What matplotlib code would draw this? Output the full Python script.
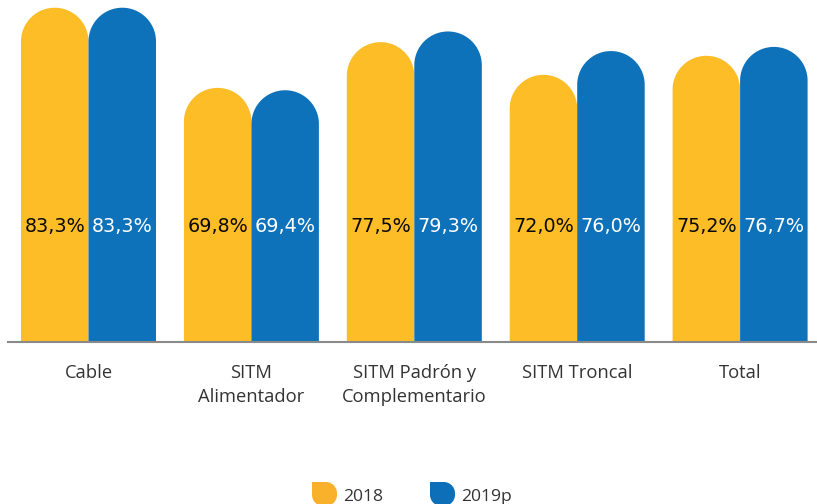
import numpy as np
import matplotlib
matplotlib.use("Agg")
import matplotlib.pyplot as plt
from matplotlib.patches import Polygon

categories = ["Cable", "SITM\nAlimentador", "SITM Padrón y\nComplementario", "SITM Troncal", "Total"]
series_names = ["2018", "2019p"]
values_2018 = [83.3, 69.8, 77.5, 72.0, 75.2]
values_2019 = [83.3, 69.4, 79.3, 76.0, 76.7]
labels_2018 = ["83,3%", "69,8%", "77,5%", "72,0%", "75,2%"]
labels_2019 = ["83,3%", "69,4%", "79,3%", "76,0%", "76,7%"]

YELLOW = "#FDBD27"
BLUE = "#0D72BA"
FONT = ["Open Sans", "DejaVu Sans"]
plt.rcParams["font.family"] = FONT

W, H = 817, 504
fig = plt.figure(figsize=(W / 100, H / 100), dpi=100)
ax_left, ax_right = 8, 817
base_px = 342
top_px = 0
ax = fig.add_axes([ax_left / W, (H - base_px) / H, (ax_right - ax_left) / W, (base_px - top_px) / H])
ymin, ymax = 27.0, 84.6
spacing_px = 162.9
xmin = -(88.5 - ax_left) / spacing_px
xmax = (ax_right - 88.5) / spacing_px
ax.set_xlim(xmin, xmax)
ax.set_ylim(ymin, ymax)
ax.axis("off")

px_per_x = (ax_right - ax_left) / (xmax - xmin)
px_per_y = (base_px - top_px) / (ymax - ymin)
bw = 67.5 / px_per_x
rx = bw / 2
ry = (67.5 / 2) / px_per_y


def rounded_bar(x0, v, color):
    xc = x0 + rx
    t = np.linspace(np.pi, 0, 80)
    arc_x = xc + rx * np.cos(t)
    arc_y = (v - ry) + ry * np.sin(t)
    xs = np.concatenate([[x0], arc_x, [x0 + bw]])
    ys = np.concatenate([[ymin - 1], arc_y, [ymin - 1]])
    ax.add_patch(Polygon(np.column_stack([xs, ys]), closed=True, facecolor=color,
                         edgecolor="none", clip_on=True))


x = np.arange(len(categories))
label_y = ymin + (base_px - 226) / px_per_y
for i in x:
    rounded_bar(i - bw, values_2018[i], YELLOW)
    rounded_bar(i, values_2019[i], BLUE)
    ax.text(i - bw / 2, label_y, labels_2018[i], ha="center", va="center",
            fontsize=13.8, color="#0a0a0a", family=["DejaVu Sans"])
    ax.text(i + bw / 2, label_y, labels_2019[i], ha="center", va="center",
            fontsize=13.8, color="white", family=["DejaVu Sans"])

# baseline
ax.plot([xmin, xmax], [ymin, ymin], color="#8a8a8a", lw=1.5, clip_on=False, zorder=5)

# category labels
line_baselines = [378.5, 402]
for i, c in enumerate(categories):
    fx = (ax_left + (i - xmin) * px_per_x) / W
    for j, line in enumerate(c.split("\n")):
        fig.text(fx, 1 - line_baselines[j] / H, line, ha="center", va="baseline",
                 fontsize=13.2, color="#333333")


def legend_marker_px(x0, ytop, w, h, color):
    r = w * 0.45
    pts = [(x0, ytop)]
    t = np.linspace(np.pi / 2, 0, 20)
    pts += [(x0 + w - r + r * np.cos(a), ytop + r - r * np.sin(a)) for a in t]
    t = np.linspace(0, -np.pi / 2, 20)
    pts += [(x0 + w - r + r * np.cos(a), ytop + h - r - r * np.sin(a)) for a in t]
    t = np.linspace(-np.pi / 2, -np.pi, 20)
    pts += [(x0 + r + r * np.cos(a), ytop + h - r - r * np.sin(a)) for a in t]
    pts = [(px / W, 1 - py / H) for px, py in pts]
    fig.patches.append(Polygon(pts, closed=True, transform=fig.transFigure,
                               facecolor=color, edgecolor="none", figure=fig))


legend_colors = ["#F9B02B", "#0C6FB8"]
legend_x = [312, 430]
for name, col, lx in zip(series_names, legend_colors, legend_x):
    legend_marker_px(lx, 482, 25, 24, col)
    fig.text((lx + 31) / W, 1 - 501 / H, name, ha="left", va="baseline",
             fontsize=12.6, color="#333333")

fig.savefig("out.png", dpi=100)
